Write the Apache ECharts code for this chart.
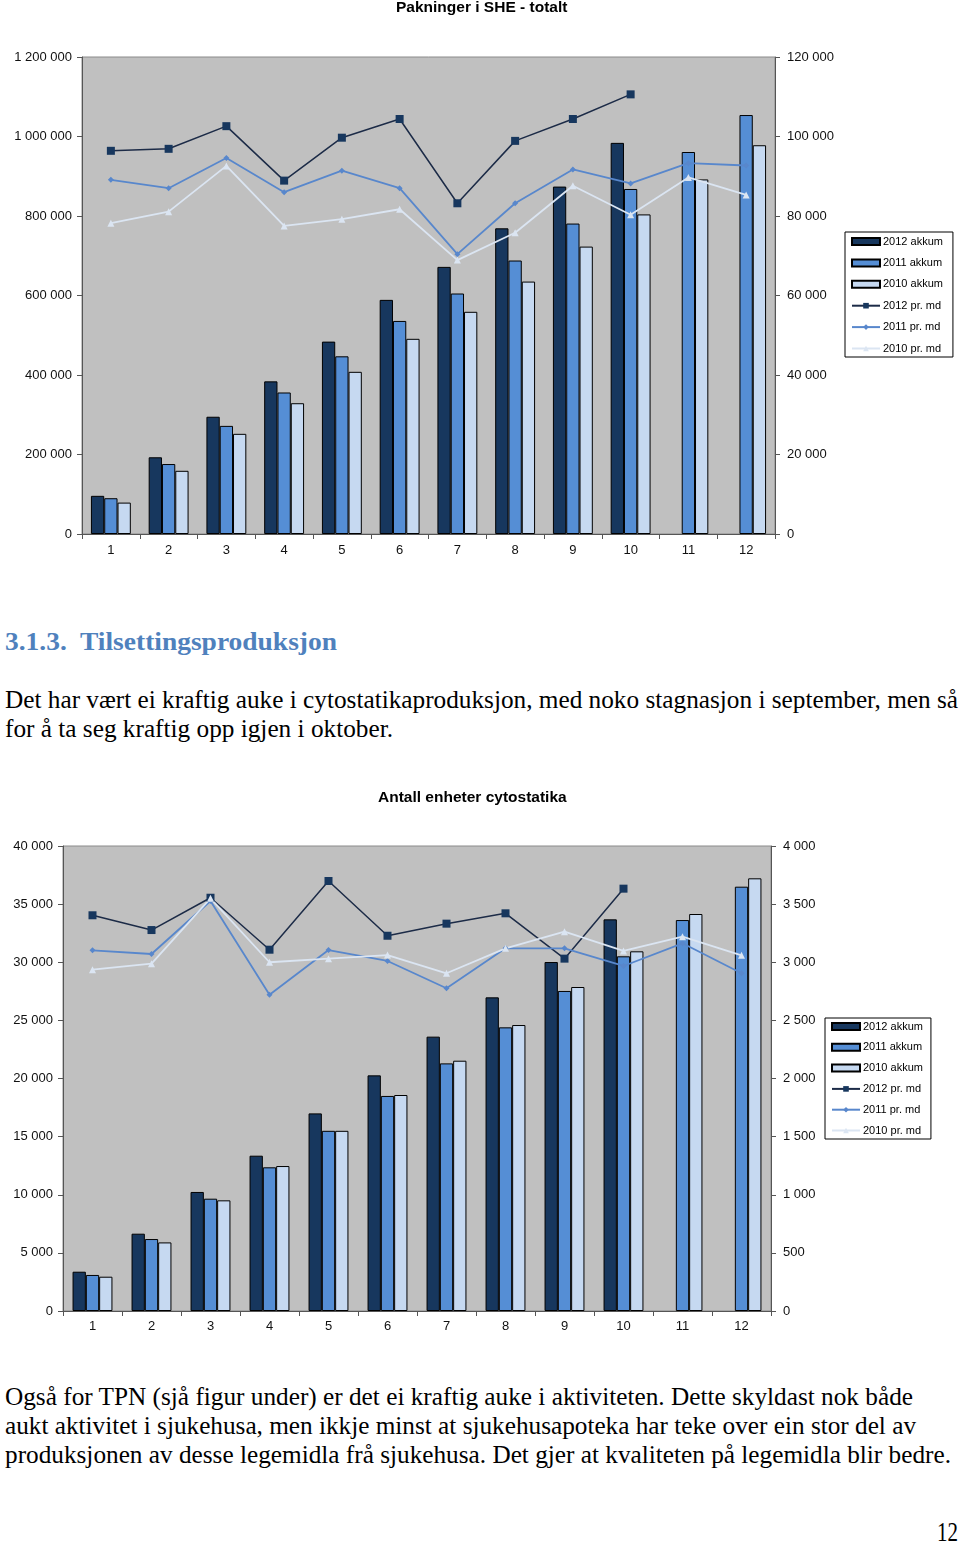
<!DOCTYPE html>
<html><head><meta charset="utf-8">
<script src="https://cdn.jsdelivr.net/npm/echarts@6/dist/echarts.min.js"></script>
<style>
html,body{margin:0;padding:0;background:#fff;width:960px;height:1547px;overflow:hidden;position:relative}
.t{position:absolute;left:5px;white-space:nowrap;font-family:"Liberation Serif","Times New Roman",serif;font-size:25px;line-height:25px;color:#000;transform-origin:0 50%}
.h{font-weight:bold;color:#4f81bd;font-size:26px;line-height:26px}
#c1{position:absolute;left:0;top:0;width:960px;height:575px}
#c2{position:absolute;left:0;top:780px;width:960px;height:570px}
</style></head><body>
<div id="c1"></div>
<div class="t h fit" data-w="332" style="top:629px">3.1.3.&nbsp; Tilsettingsproduksjon</div>
<div class="t fit" data-w="953" style="top:687px">Det har vært ei kraftig auke i cytostatikaproduksjon, med noko stagnasjon i september, men så</div>
<div class="t fit" data-w="388" style="top:716px">for å ta seg kraftig opp igjen i oktober.</div>
<div id="c2"></div>
<div class="t fit" data-w="908" style="top:1384px">Også for TPN (sjå figur under) er det ei kraftig auke i aktiviteten. Dette skyldast nok både</div>
<div class="t fit" data-w="911" style="top:1413px">aukt aktivitet i sjukehusa, men ikkje minst at sjukehusapoteka har teke over ein stor del av</div>
<div class="t fit" data-w="946" style="top:1442px">produksjonen av desse legemidla frå sjukehusa. Det gjer at kvaliteten på legemidla blir bedre.</div>
<div class="t fit" data-w="21" style="top:1519px;left:937px;font-size:27px;line-height:27px">12</div>
<script>
// ---------- DATA ----------
const months = ['1','2','3','4','5','6','7','8','9','10','11','12'];
const seriesNames = ['2012 akkum','2011 akkum','2010 akkum','2012 pr. md','2011 pr. md','2010 pr. md'];

// Chart 1: Pakninger i SHE - totalt
const pakTitle = 'Pakninger i SHE - totalt';
const pak2012Akkum = [96000,193000,295000,384000,484000,589000,672000,769000,874000,984000,null,null];
const pak2011Akkum = [90000,176000,272000,356000,447000,536000,605000,688000,781000,868000,961000,1054000];
const pak2010Akkum = [79000,159000,252000,329000,408000,491000,559000,635000,723000,804000,892000,978000];
const pak2012Md = [96400,96900,102600,88900,99700,104400,83200,98900,104400,110600,null,null];
const pak2011Md = [89100,87000,94600,86000,91400,87000,70400,83200,91700,88200,93300,92700];
const pak2010Md = [78200,81100,92600,77500,79200,81700,68900,75800,87600,80300,89700,85300];
const pakLeftAxis = [0, 1200000, 200000];   // min, max, interval
const pakRightAxis = [0, 120000, 20000];

// Chart 2: Antall enheter cytostatika
const cytTitle = 'Antall enheter cytostatika';
const cyt2012Akkum = [3380,6650,10240,13360,17000,20270,23600,26980,30020,33690,null,null];
const cyt2011Akkum = [3100,6190,9660,12360,15500,18500,21300,24400,27530,30510,33630,36500];
const cyt2010Akkum = [2950,5900,9520,12470,15500,18580,21530,24600,27870,30940,34150,37220];
const cyt2012Md = [3404,3277,3555,3108,3699,3228,3332,3421,3031,3633,null,null];
const cyt2011Md = [3103,3071,3527,2721,3105,3011,2776,3120,3120,2968,3163,2905];
const cyt2010Md = [2936,2988,3550,3000,3031,3062,2905,3120,3263,3097,3220,3060];
const cytLeftAxis = [0, 40000, 5000];
const cytRightAxis = [0, 4000, 500];

// ---------- STYLE / BUILD ----------
const FONT = '"Liberation Sans", Arial, sans-serif';
const fmt = v => String(v).replace(/\B(?=(\d{3})+(?!\d))/g, ' ');
const barColors = ['#17375e', '#558ed5', '#c6d9f1'];

function buildOption(c) {
  const axisCol = '#555';
  const yAx = (ax, pos, margin) => ({
    type: 'value', position: pos, min: ax[0], max: ax[1], interval: ax[2],
    axisLine: { show: true, lineStyle: { color: axisCol, width: 1 } },
    axisTick: { show: true, length: 5, lineStyle: { color: axisCol } },
    splitLine: { show: false },
    axisLabel: { formatter: fmt, margin: margin, color: '#111', fontSize: 13, fontFamily: FONT }
  });
  const bar = (name, data, i) => ({
    name, type: 'bar', data, yAxisIndex: 0, barWidth: 13.3, barGap: '0%',
    itemStyle: { color: barColors[i], borderColor: '#000', borderWidth: 1 }
  });
  return {
    animation: false,
    title: { text: c.title, left: c.titleLeft, top: c.titleTop, padding: 0,
      textStyle: { fontFamily: FONT, fontSize: 15.5, fontWeight: 'bold', color: '#000' } },
    legend: {
      orient: 'vertical', left: c.legLeft, top: c.legTop, padding: c.legPad,
      itemGap: c.legGap, itemWidth: 28, itemHeight: 7,
      backgroundColor: '#fff', borderColor: '#000', borderWidth: 1, borderRadius: 0,
      textStyle: { fontFamily: FONT, fontSize: 11, color: '#000', padding: [0,0,0,-2] },
      data: [
        { name: seriesNames[0], icon: 'rect' },
        { name: seriesNames[1], icon: 'rect' },
        { name: seriesNames[2], icon: 'rect' },
        seriesNames[3], seriesNames[4], seriesNames[5]
      ]
    },
    grid: { left: c.grid[0], top: c.grid[1], width: c.grid[2], height: c.grid[3],
      show: true, backgroundColor: '#c0c0c0', borderColor: '#8a8a8a', borderWidth: 1 },
    xAxis: {
      type: 'category', data: months,
      axisLine: { lineStyle: { color: axisCol } },
      axisTick: { show: true, length: 5, lineStyle: { color: axisCol } },
      axisLabel: { margin: c.xMargin, color: '#111', fontSize: 13, fontFamily: FONT }
    },
    yAxis: [yAx(c.left, 'left', 10), yAx(c.right, 'right', 12)],
    series: [
      bar(seriesNames[0], c.a12, 0),
      bar(seriesNames[1], c.a11, 1),
      bar(seriesNames[2], c.a10, 2),
      { name: seriesNames[3], type: 'line', yAxisIndex: 1, data: c.m12, symbol: 'rect', symbolSize: 8,
        lineStyle: { color: '#1c2b47', width: 1.5 }, itemStyle: { color: '#17375e' } },
      { name: seriesNames[4], type: 'line', yAxisIndex: 1, data: c.m11, symbol: 'diamond', symbolSize: 6,
        lineStyle: { color: '#5887cc', width: 1.8 }, itemStyle: { color: '#5887cc' } },
      { name: seriesNames[5], type: 'line', yAxisIndex: 1, data: c.m10, symbol: 'triangle', symbolSize: 7,
        lineStyle: { color: '#dbe5f2', width: 1.8 }, itemStyle: { color: '#dbe5f2' } }
    ]
  };
}

const chart1 = echarts.init(document.getElementById('c1'), null, { renderer: 'canvas' });
chart1.setOption(buildOption({
  title: pakTitle, titleLeft: 396, titleTop: 0,
  grid: [82, 57, 693, 477], xMargin: 10,
  left: pakLeftAxis, right: pakRightAxis,
  legLeft: 845, legTop: 232, legPad: [4, 10, 3, 6], legGap: 10.4,
  a12: pak2012Akkum, a11: pak2011Akkum, a10: pak2010Akkum,
  m12: pak2012Md, m11: pak2011Md, m10: pak2010Md
}));

const chart2 = echarts.init(document.getElementById('c2'), null, { renderer: 'canvas' });
chart2.setOption(buildOption({
  title: cytTitle, titleLeft: 378, titleTop: 10,
  grid: [63, 66, 708, 465], xMargin: 9,
  left: cytLeftAxis, right: cytRightAxis,
  legLeft: 825, legTop: 238, legPad: [3, 8, 3, 6], legGap: 9.8,
  a12: cyt2012Akkum, a11: cyt2011Akkum, a10: cyt2010Akkum,
  m12: cyt2012Md, m11: cyt2011Md, m10: cyt2010Md
}));

function fitAll() {
  document.querySelectorAll('.fit').forEach(el => {
    el.style.transform = 'none';
    const w = el.getBoundingClientRect().width;
    const target = +el.dataset.w;
    if (w > 0) el.style.transform = 'scaleX(' + (target / w) + ')';
  });
}
fitAll();
if (document.fonts && document.fonts.ready) document.fonts.ready.then(fitAll);
</script>
</body></html>
